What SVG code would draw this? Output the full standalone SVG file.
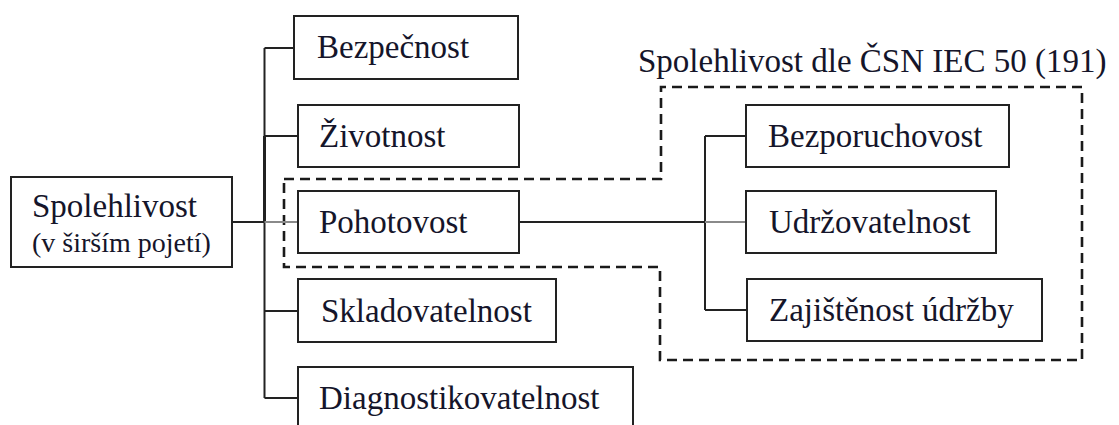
<svg xmlns="http://www.w3.org/2000/svg" width="1119" height="425" viewBox="0 0 1119 425">
  <style>
    .box { fill: #ffffff; stroke: #222222; stroke-width: 2; }
    .lbl { font-family: "Liberation Serif", "Times New Roman", serif; font-size: 33px; fill: #15152a; }
    .sub { font-size: 28px; }
    .wire { fill: none; stroke: #222222; stroke-width: 2; }
    .wire-thick { stroke-width: 3; }
    .wire-light { fill: none; stroke: #8a8a8a; stroke-width: 2; }
    .scope { fill: none; stroke: #1a1a1a; stroke-width: 2.6; stroke-dasharray: 10 6; }
  </style>
  <rect width="1119" height="425" fill="#ffffff"/>

  <!-- scope of the standard definition: dashed outline around the availability group -->
  <g id="scope">
    <path class="scope" d="M284,179 H661 V87 H1082 V360 H660 V267 H284 Z"/>
    <text class="lbl" x="638" y="72">Spolehlivost dle ČSN IEC 50 (191)</text>
  </g>

  <g id="connectors">
    <!-- left bus -->
    <path class="wire" d="M264.5,48 V398"/>
    <path class="wire wire-thick" d="M264.5,136 V222"/>
    <path class="wire" d="M264.5,48 H294"/>
    <path class="wire" d="M264.5,136 H298"/>
    <path class="wire" d="M232,222 H264.5"/>
    <path class="wire-light" d="M264.5,222 H298"/>
    <path class="wire" d="M264.5,311 H298"/>
    <path class="wire" d="M264.5,398 H298"/>
    <!-- right bus -->
    <path class="wire" d="M519,222 H705"/>
    <path class="wire" d="M705,136 V310"/>
    <path class="wire" d="M705,136 H746"/>
    <path class="wire-light" d="M705,222 H746"/>
    <path class="wire" d="M705,310 H747"/>
  </g>

  <g id="spolehlivost">
    <rect class="box" x="11" y="177" width="221" height="90"/>
    <text class="lbl" x="32" y="217">Spolehlivost</text>
    <text class="lbl sub" x="32" y="252">(v širším pojetí)</text>
  </g>

  <g id="bezpecnost">
    <rect class="box" x="294" y="16" width="224" height="63"/>
    <text class="lbl" x="317" y="58">Bezpečnost</text>
  </g>

  <g id="zivotnost">
    <rect class="box" x="298" y="105" width="221" height="62"/>
    <text class="lbl" x="319" y="147">Životnost</text>
  </g>

  <g id="pohotovost">
    <rect class="box" x="298" y="191" width="221" height="62"/>
    <text class="lbl" x="319" y="233">Pohotovost</text>
  </g>

  <g id="skladovatelnost">
    <rect class="box" x="298" y="279" width="258" height="63"/>
    <text class="lbl" x="321" y="322">Skladovatelnost</text>
  </g>

  <g id="diagnostikovatelnost">
    <rect class="box" x="298" y="367" width="335" height="63"/>
    <text class="lbl" x="319" y="409">Diagnostikovatelnost</text>
  </g>

  <g id="bezporuchovost">
    <rect class="box" x="746" y="105" width="263" height="62"/>
    <text class="lbl" x="768" y="147">Bezporuchovost</text>
  </g>

  <g id="udrzovatelnost">
    <rect class="box" x="746" y="191" width="250" height="62"/>
    <text class="lbl" x="769" y="233">Udržovatelnost</text>
  </g>

  <g id="zajistenost">
    <rect class="box" x="747" y="279" width="295" height="62"/>
    <text class="lbl" x="769" y="321">Zajištěnost údržby</text>
  </g>
</svg>
